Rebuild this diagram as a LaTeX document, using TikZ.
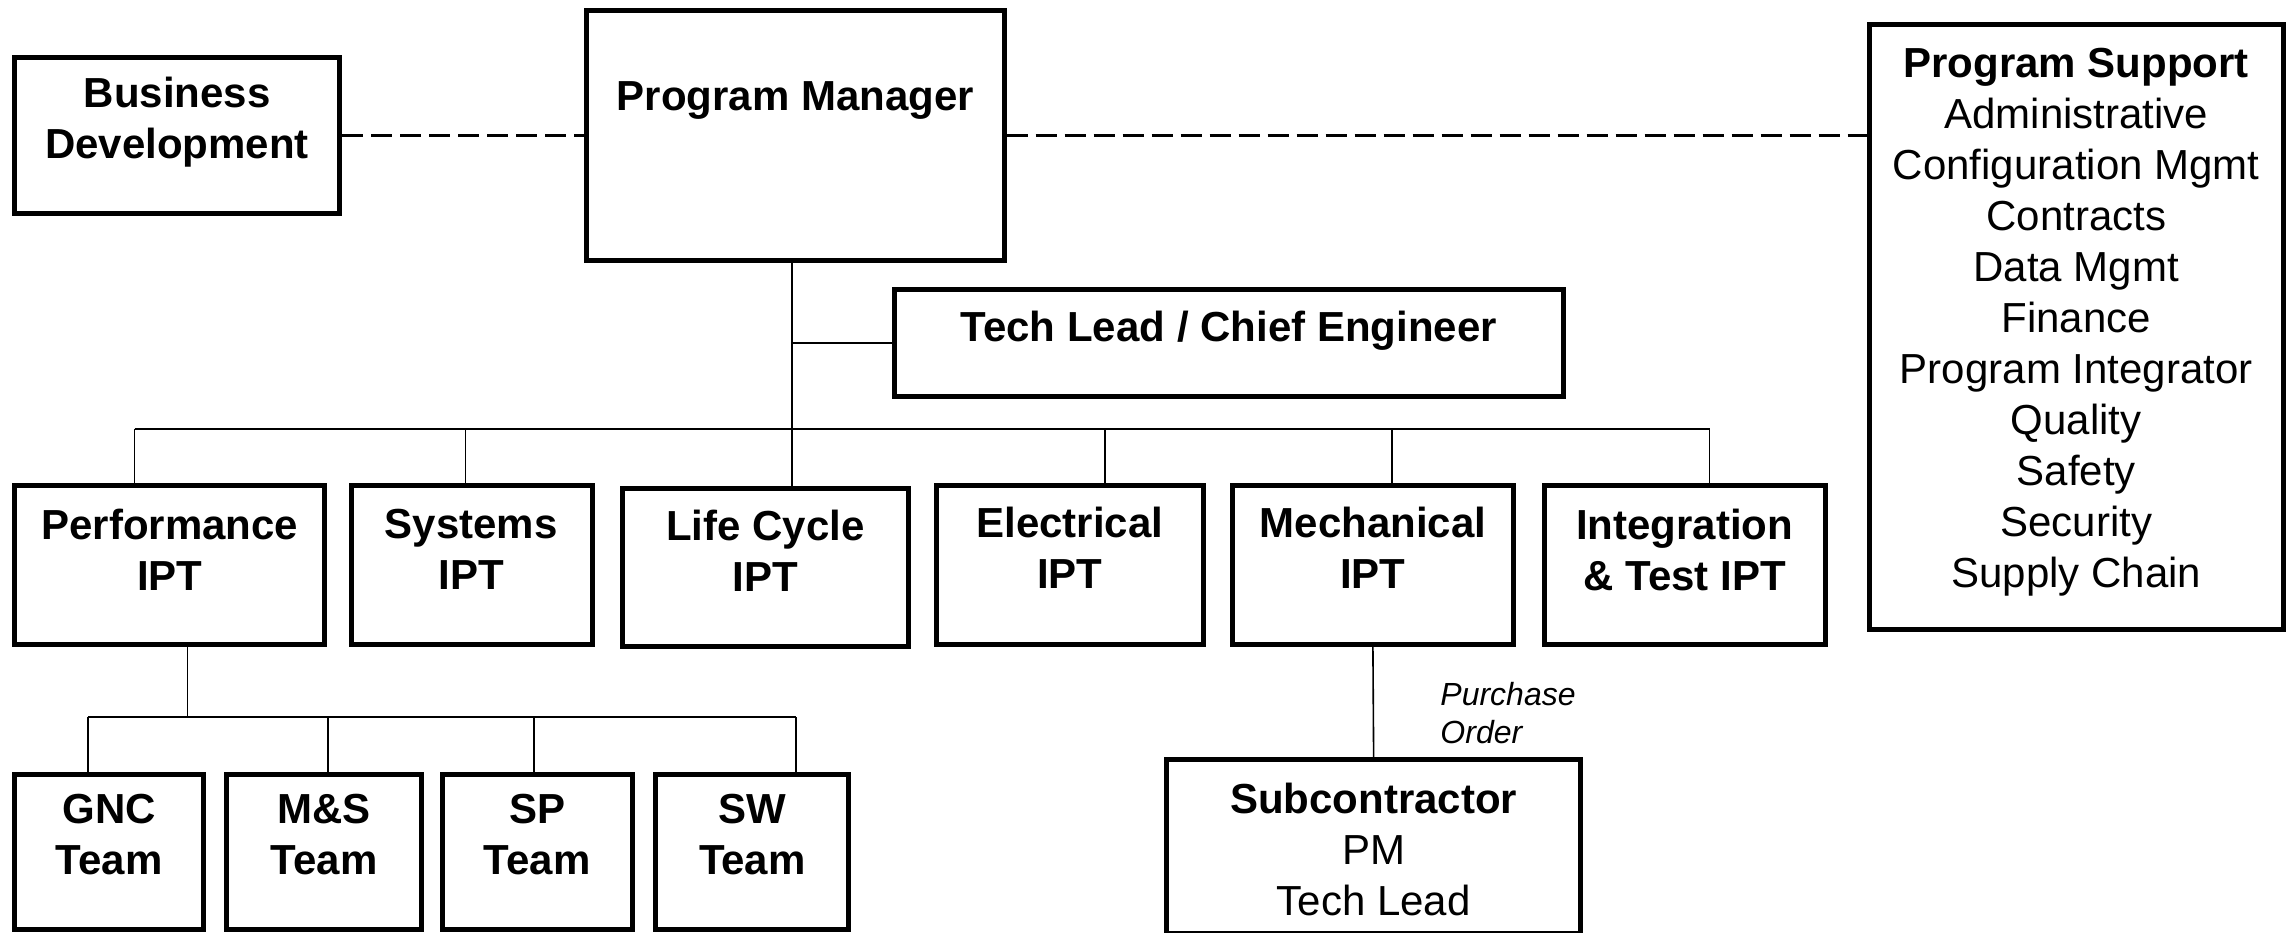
\documentclass[tikz,border=0pt]{standalone}
\usepackage{fontspec}
\setmainfont{Liberation Sans}
\usetikzlibrary{fit}
\begin{document}
\begin{tikzpicture}[x=1.4636pt,y=-1.4636pt,
  box/.style={draw, line width=5pt, inner sep=0pt, rectangle},
  bt/.style={font=\fontsize{42}{51}\selectfont\bfseries, align=center, inner sep=0pt},
  btr/.style={font=\fontsize{42}{51}\selectfont, align=center, inner sep=0pt},
  itx/.style={font=\fontsize{32}{38}\selectfont\itshape, align=left, inner sep=0pt, anchor=west},
  conn/.style={line width=1.6pt},
  dline/.style={line width=3pt, dash pattern=on 21pt off 8pt}]
\useasboundingbox (0,0) rectangle (1568,637);
% top level boxes
\node[box, fit={(10,39) (232,146)}] (bd) {};
\node[bt] (tbd) at (121,83.5) {Business\\Development};
\node[box, fit={(401,7) (686,178)}] (pm) {};
\node[bt] (tpm) at (543.5,69) {Program Manager};
\node[box, fit={(1277,17) (1560,430)}] (ps) {};
\node[btr] (tps) at (1418.5,220) {\textbf{Program Support}\\Administrative\\Configuration Mgmt\\Contracts\\Data Mgmt\\Finance\\Program Integrator\\Quality\\Safety\\Security\\Supply Chain};
\node[box, fit={(611,198) (1068,271)}] (tl) {};
\node[bt] (ttl) at (839.5,226) {Tech Lead / Chief Engineer};
% IPT boxes
\node[box, fit={(10,332) (222,440)}] (perf) {};
\node[bt] (tperf) at (116,375.5) {Performance\\IPT};
\node[box, fit={(240,332) (405,440)}] (sys) {};
\node[bt] (tsys) at (322,375.5) {Systems\\IPT};
\node[box, fit={(425,334) (621,442)}] (lc) {};
\node[bt] (tlc) at (523,376.5) {Life Cycle\\IPT};
\node[box, fit={(640,332) (822,440)}] (elec) {};
\node[bt] (telec) at (731,374.5) {Electrical\\IPT};
\node[box, fit={(842,332) (1034,440)}] (mech) {};
\node[bt] (tmech) at (938,374.5) {Mechanical\\IPT};
\node[box, fit={(1055,332) (1247,440)}] (integ) {};
\node[bt] (tinteg) at (1151,375.5) {Integration\\\& Test IPT};
% teams
\node[box, fit={(10,529) (139,635)}] (gnc) {};
\node[bt] (tgnc) at (74.5,570.5) {GNC\\Team};
\node[box, fit={(155,529) (288,635)}] (ms) {};
\node[bt] (tms) at (221.5,570.5) {M\&S\\Team};
\node[box, fit={(302,529) (432,635)}] (sp) {};
\node[bt] (tsp) at (367,570.5) {SP\\Team};
\node[box, fit={(448,529) (580,635)}] (sw) {};
\node[bt] (tsw) at (514,570.5) {SW\\Team};
% subcontractor
\node[box, fit={(797,519) (1080,638)}] (sub) {};
\node[btr] (tsub) at (938.5,580.5) {\textbf{Subcontractor}\\PM\\Tech Lead};
\node[itx] (po) at (984,487) {Purchase\\Order};
% dashed links
\draw[dline] (bd.east) -- (bd.east -| pm.west);
\draw[dline] (pm.east) -- (pm.east -| ps.west);
% main tree
\coordinate (d1) at (92,293);
\coordinate (d2) at (318,293);
\coordinate (d3) at (541,293);
\coordinate (d4) at (755,293);
\coordinate (d5) at (951,293);
\coordinate (d6) at (1168,293);
\draw[conn] (d3 |- pm.south) -- (d3 |- lc.north);
\draw[conn] (tl.west -| d3) -- (tl.west);
\draw[conn] (d1) -- (d6);
\draw[conn] (d1) -- (d1 |- perf.north);
\draw[conn] (d2) -- (d2 |- sys.north);
\draw[conn] (d4) -- (d4 |- elec.north);
\draw[conn] (d5) -- (d5 |- mech.north);
\draw[conn] (d6) -- (d6 |- integ.north);
% team tree
\coordinate (pt) at (128,490);
\coordinate (e1) at (60,490);
\coordinate (e2) at (224,490);
\coordinate (e3) at (365,490);
\coordinate (e4) at (544,490);
\draw[conn] (pt |- perf.south) -- (pt);
\draw[conn] (e1) -- (e4);
\draw[conn] (e1) -- (e1 |- gnc.north);
\draw[conn] (e2) -- (e2 |- ms.north);
\draw[conn] (e3) -- (e3 |- sp.north);
\draw[conn] (e4) -- (e4 |- sw.north);
% subcontractor link
\draw[conn] (mech.south) -- (sub.north);
\end{tikzpicture}
\end{document}
